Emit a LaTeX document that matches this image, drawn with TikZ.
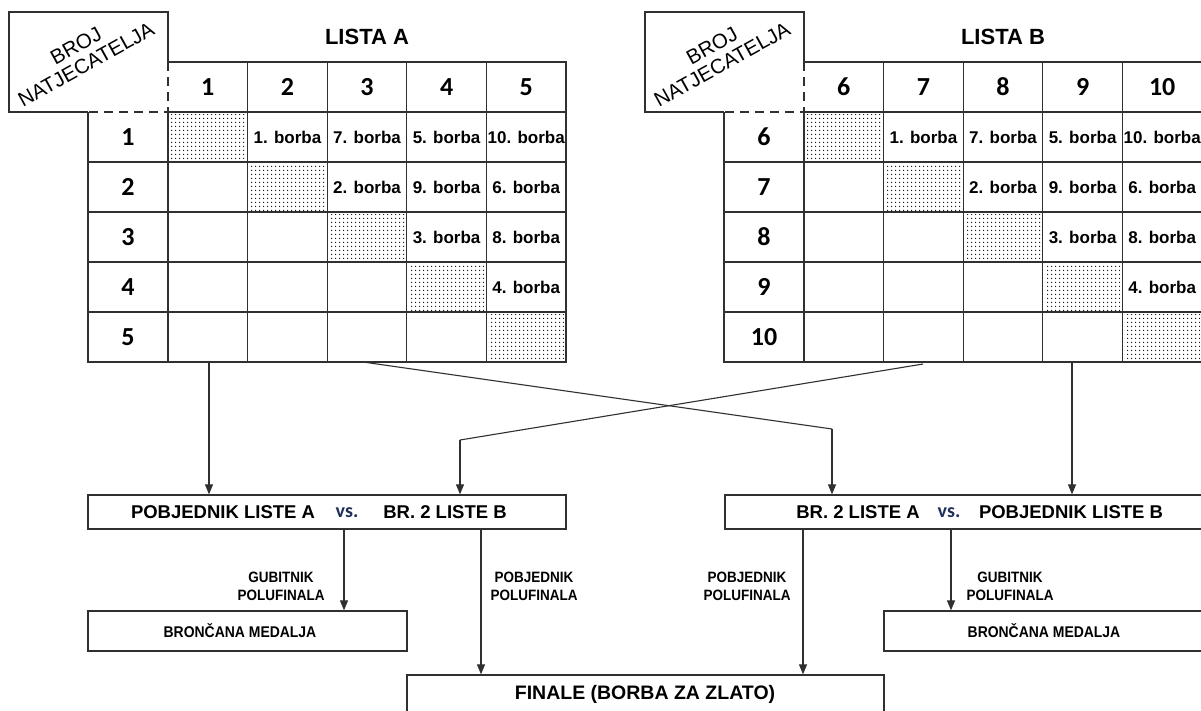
\documentclass[tikz,border=0pt]{standalone}
\usepackage{fontspec}
\setmainfont{Liberation Sans}
\newfontfamily\carl{Carlito}
\newfontfamily\narr[FakeStretch=0.9]{Liberation Sans}
\usetikzlibrary{arrows.meta,patterns.meta}
\definecolor{ln}{HTML}{303030}
\definecolor{vsc}{HTML}{1F2F5A}
\tikzset{
  gridline/.style={draw=ln, line width=1.3pt},
  dashline/.style={draw=ln, line width=2.2pt, dash pattern=on 9pt off 6pt},
  box/.style={draw=ln, line width=1.3pt, rectangle, inner sep=0pt},
  conn/.style={draw=ln, line width=1.1pt},
  arr/.style={conn, -{Triangle[length=10pt,width=8pt]}},
  digit/.style={font=\carl\bfseries\fontsize{26}{28}\selectfont, inner sep=0pt},
  fight/.style={font=\bfseries\fontsize{17}{19}\selectfont, inner sep=0pt},
  title/.style={font=\bfseries\fontsize{22}{24}\selectfont, inner sep=0pt},
  hdr/.style={font=\fontsize{20.5}{21}\selectfont, align=center, rotate=29, inner sep=0pt},
  semitxt/.style={font=\bfseries\fontsize{18.5}{20}\selectfont, inner sep=0pt},
  fintxt/.style={font=\bfseries\fontsize{19.5}{21}\selectfont, inner sep=0pt},
  vstxt/.style={font=\carl\bfseries\fontsize{20}{22}\selectfont, text=vsc, inner sep=0pt},
  smalltxt/.style={font=\narr\bfseries\fontsize{15}{18}\selectfont, align=center, inner sep=0pt},
  medal/.style={font=\narr\bfseries\fontsize{15.5}{18}\selectfont, inner sep=0pt},
  shade/.style={pattern={Dots[distance=4pt,radius=0.8pt]}, pattern color=black},
}
\begin{document}
\begin{tikzpicture}[x=1pt,y=-1pt]
\fill[white] (0,0) rectangle (1201,710);
\useasboundingbox (0,0) rectangle (1201,710);

\foreach \X/\off/\ttl/\p in {168/0/LISTA A/A, 804/5/LISTA B/B} {
  % shaded diagonal
  \foreach \k in {0,...,4} {
    \fill[shade] (\X+79.6*\k+2,112+50*\k+2) rectangle ++(75.6,46);
  }
  % grid
  \draw[gridline] (\X,62) -- (\X+398,62) -- (\X+398,362) -- (\X-80,362) -- (\X-80,112);
  \draw[gridline] (\X,112) -- (\X+398,112);
  \foreach \k in {1,...,4} {
    \draw[gridline] (\X-80,112+50*\k) -- (\X+398,112+50*\k);
    \draw[gridline] (\X+79.6*\k,62) -- (\X+79.6*\k,362);
  }
  \draw[gridline] (\X,112) -- (\X,362);
  % header box
  \draw[gridline] (\X-80,112) -- (\X-159,112) -- (\X-159,12) -- (\X,12) -- (\X,62);
  \draw[dashline] (\X,62) -- (\X,112) -- (\X-80,112);
  % numbers
  \foreach \k in {1,...,5} {
    \pgfmathtruncatemacro\num{\k+\off}
    \node[digit] (\p-h\k) at (\X+79.6*\k-39.8,87) {\num};
    \node[digit] (\p-r\k) at (\X-40,137+50*\k-50) {\num};
  }
  % fights
  \foreach \r/\c/\n in {1/2/1,1/3/7,1/4/5,1/5/10,2/3/2,2/4/9,2/5/6,3/4/3,3/5/8,4/5/4} {
    \node[fight] (\p-\r-\c) at (\X+79.6*\c-39.8,137+50*\r-50) {\n. borba};
  }
  \node[title] (\p-title) at (\X+199,37) {\ttl};
  \node[hdr] (\p-hdr) at (\X-87,55) {BROJ\\NATJECATELJA};
}

% semifinal boxes
\node[box, minimum width=478pt, minimum height=34pt] (semiA) at (327,512) {};
\node[box, minimum width=478pt, minimum height=34pt] (semiB) at (964,512) {};
\node[semitxt] (sA1) at (223,512) {POBJEDNIK LISTE A};
\node[vstxt] (vsA) at (347,513) {vs.};
\node[semitxt] (sA2) at (445,512) {BR. 2 LISTE B};
\node[semitxt] (sB1) at (858,512) {BR. 2 LISTE A};
\node[vstxt] (vsB) at (949,513) {vs.};
\node[semitxt] (sB2) at (1071,512) {POBJEDNIK LISTE B};

% medal / final boxes
\node[box, minimum width=319pt, minimum height=40pt] (bronzeA) at (247.5,631) {};
\node[medal] (mA) at (240,631) {BRONČANA MEDALJA};
\node[box, minimum width=319pt, minimum height=40pt] (bronzeB) at (1043.5,631) {};
\node[medal] (mB) at (1044,631) {BRONČANA MEDALJA};
\node[box, minimum width=477pt, minimum height=40pt] (final) at (645.5,695) {};
\node[fintxt] (finT) at (645,694) {FINALE (BORBA ZA ZLATO)};

% connectors from tables
\coordinate (a1) at (209,362);
\coordinate (a2) at (363,362);
\coordinate (k1) at (832,429);
\coordinate (b1) at (923,364);
\coordinate (k2) at (460,440);
\coordinate (b2) at (1072,362);
\draw[arr] (a1) -- (a1 |- semiA.north);
\draw[conn] (a2) -- (k1);
\draw[arr] (k1) -- (k1 |- semiB.north);
\draw[conn] (b1) -- (k2);
\draw[arr] (k2) -- (k2 |- semiA.north);
\draw[arr] (b2) -- (b2 |- semiB.north);

% connectors to medal and final
\coordinate (g1) at (344,0);
\coordinate (p1) at (481,0);
\coordinate (p2) at (803,0);
\coordinate (g2) at (951,0);
\draw[arr] (semiA.south -| g1) -- (bronzeA.north -| g1);
\draw[arr] (semiA.south -| p1) -- (final.north -| p1);
\draw[arr] (semiB.south -| p2) -- (final.north -| p2);
\draw[arr] (semiB.south -| g2) -- (bronzeB.north -| g2);

\node[smalltxt] (lg1) at (281,586) {GUBITNIK\\POLUFINALA};
\node[smalltxt] (lp1) at (534,586) {POBJEDNIK\\POLUFINALA};
\node[smalltxt] (lp2) at (747,586) {POBJEDNIK\\POLUFINALA};
\node[smalltxt] (lg2) at (1010,586) {GUBITNIK\\POLUFINALA};
\end{tikzpicture}
\end{document}
